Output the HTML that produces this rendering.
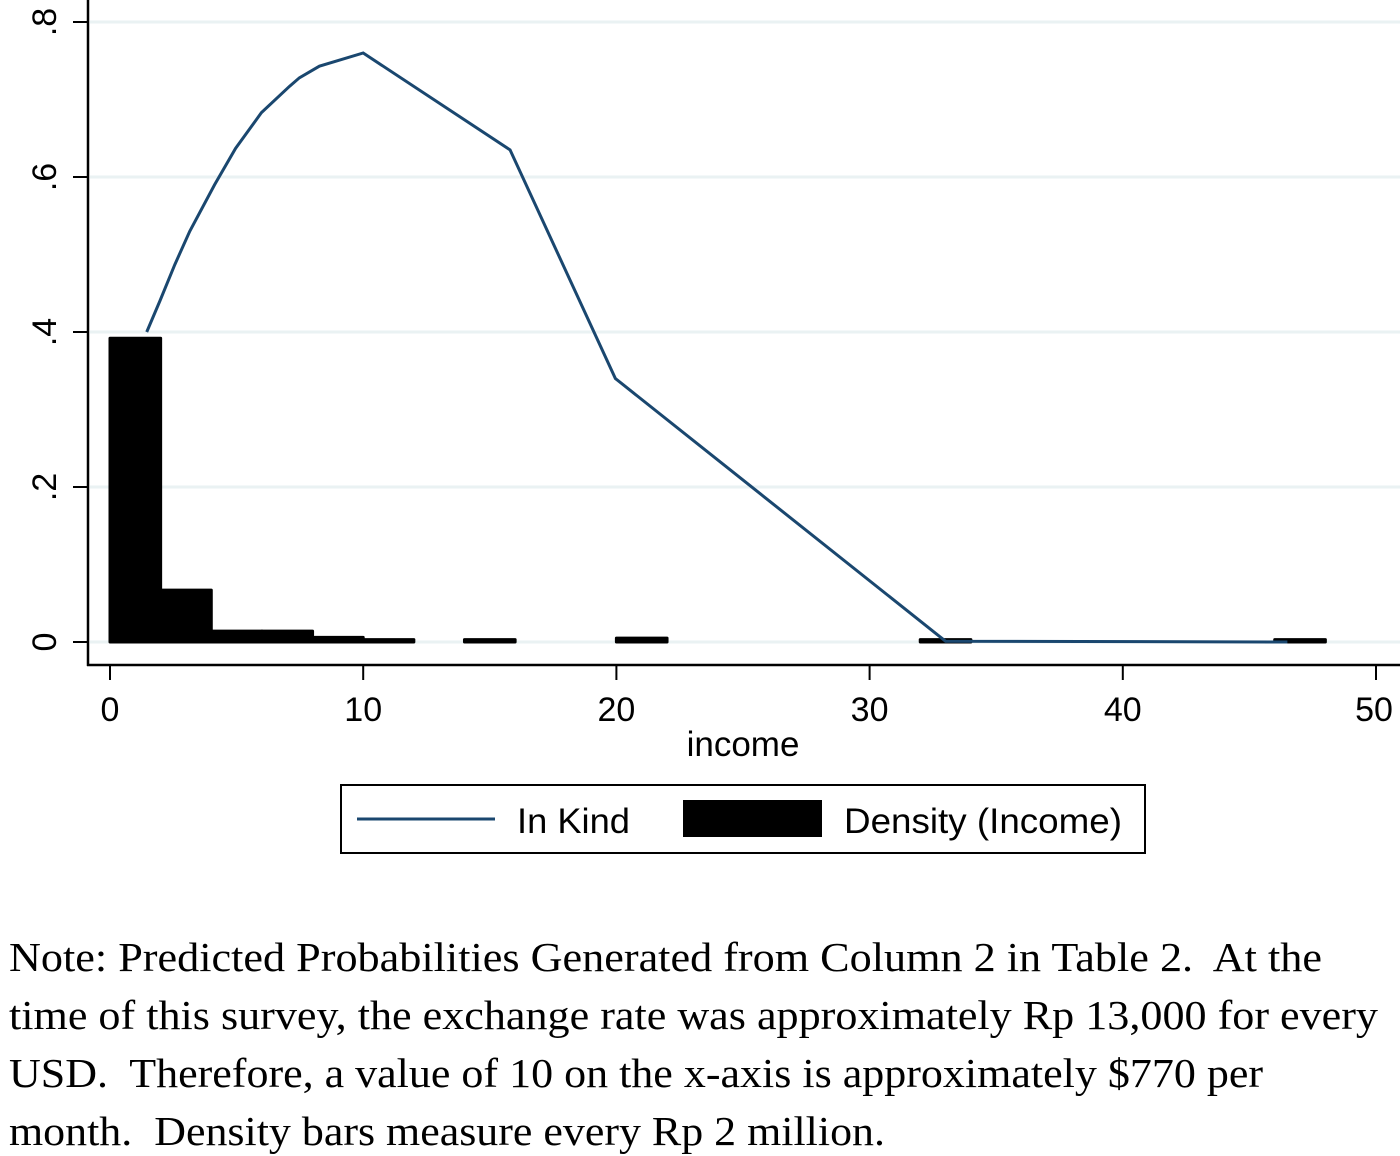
<!DOCTYPE html>
<html><head><meta charset="utf-8"><style>
body{margin:0;background:#fff;}
svg{display:block;}
.t{font-family:"Liberation Sans",sans-serif;font-size:34px;fill:#000;}
.lg{font-family:"Liberation Sans",sans-serif;font-size:35px;fill:#000;}
.n{font-family:"Liberation Serif",serif;font-size:41px;fill:#000;white-space:pre;}
</style></head><body>
<svg id="c" width="1400" height="1156" xmlns="http://www.w3.org/2000/svg"></svg>
<script>
const xTicks=[0,10,20,30,40,50];
const yTicks=[0,0.2,0.4,0.6,0.8];
const yTickLabels=["0",".2",".4",".6",".8"];
const lineX=[1.45,1.97,2.56,3.15,4.13,4.96,5.98,7.09,7.48,8.27,10,15.8,19.96,33,46.5];
const lineY=[0.40,0.44,0.487,0.53,0.59,0.637,0.683,0.717,0.728,0.743,0.76,0.635,0.34,0.001,0];
const binStart=[0,2,4,6,8,10,14,20,32,46];
const binHeight=[0.392,0.067,0.014,0.014,0.006,0.003,0.003,0.005,0.003,0.003];
const binWidth=2;
const X=v=>110+v*25.32, Y=v=>642-v*775;
const s=document.getElementById('c'),NS='http://www.w3.org/2000/svg';
function mk(t,a,p){const e=document.createElementNS(NS,t);for(const k in a)e.setAttribute(k,a[k]);(p||s).appendChild(e);return e;}
yTicks.forEach((v,i)=>{
 if(v>0){const g=mk('line',{x1:90,x2:1400,y1:Y(v),y2:Y(v),stroke:'#eaf2f3','stroke-width':3});
 
 }
 const t=mk('line',{x1:73,x2:88,y1:Y(v),y2:Y(v),stroke:'#000','stroke-width':2});
 
 
 const l=mk('text',{class:'t',x:0,y:0,'text-anchor':'middle',transform:`translate(56,${Y(v)}) rotate(-90)`});
 l.textContent=yTickLabels[i];
 
 
});
mk('line',{x1:90,x2:1400,y1:Y(0),y2:Y(0),stroke:'#eaf2f3','stroke-width':3});
binStart.forEach((b,i)=>{
 const h=Math.max(binHeight[i]*775,0);
 const r=mk('rect',{x:X(b),y:Y(binHeight[i]),width:binWidth*25.32,height:h,fill:'#000',stroke:'#000','stroke-width':3,'stroke-linejoin':'round'});
 
 
});
const pl=mk('polyline',{points:lineX.map((x,i)=>X(x)+','+Y(lineY[i])).join(' '),fill:'none',stroke:'#1a476f','stroke-width':3});


const ya=mk('line',{x1:88,x2:88,y1:0,y2:666,stroke:'#000','stroke-width':2.5});


const xa=mk('line',{x1:87,x2:1400,y1:665,y2:665,stroke:'#000','stroke-width':2.5});


xTicks.forEach(v=>{
 const t=mk('line',{x1:X(v),x2:X(v),y1:665,y2:680,stroke:'#000','stroke-width':2});
 
 
 const l=mk('text',{class:'t',x:X(v)-(v==50?2:0),y:721,'text-anchor':'middle'});
 l.textContent=v;
 
 
});
const xt=mk('text',{class:'lg',x:743,y:756,'text-anchor':'middle'});xt.textContent='income';


const lg=mk('g',{});


mk('rect',{x:341,y:785,width:804,height:68,fill:'#fff',stroke:'#000','stroke-width':2},lg);
mk('line',{x1:357,x2:495,y1:819,y2:819,stroke:'#1a476f','stroke-width':3},lg);
const l1=mk('text',{class:'lg',x:517,y:833,textLength:113,lengthAdjust:'spacingAndGlyphs'},lg);l1.textContent='In Kind';


mk('rect',{x:683,y:800,width:139,height:37,fill:'#000'},lg);
const l2=mk('text',{class:'lg',x:844,y:833,textLength:278,lengthAdjust:'spacingAndGlyphs'},lg);l2.textContent='Density (Income)';


const notes=["Note: Predicted Probabilities Generated from Column 2 in Table 2.  At the","time of this survey, the exchange rate was approximately Rp 13,000 for every","USD.  Therefore, a value of 10 on the x-axis is approximately $770 per","month.  Density bars measure every Rp 2 million."];
const noteW=[1313,1369,1254,876];
notes.forEach((n,i)=>{const t=mk('text',{class:'n',x:9,y:971+i*58,textLength:noteW[i],lengthAdjust:'spacingAndGlyphs'});t.textContent=n;
 
 });
</script>
</body></html>
